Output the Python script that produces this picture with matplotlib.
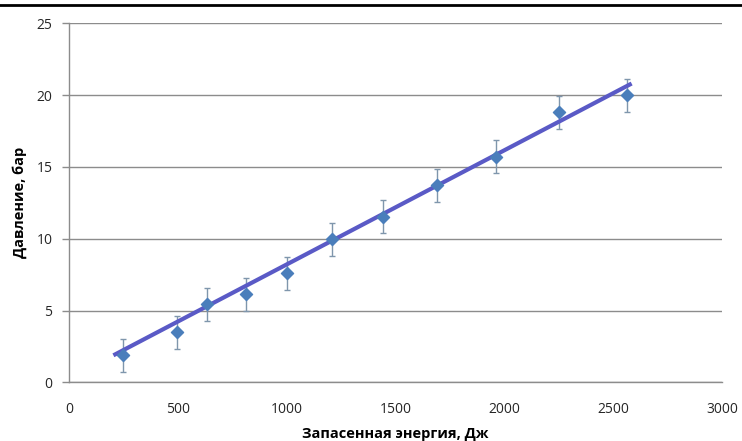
import numpy as np
import matplotlib

matplotlib.use("Agg")
import matplotlib.pyplot as plt
from matplotlib.lines import Line2D

plt.rcParams["font.family"] = ["Open Sans", "DejaVu Sans"]

# stored energy (J) vs pressure (bar)
energy_j = [247, 495, 635, 812, 1000, 1210, 1444, 1689, 1960, 2249, 2565]
pressure_bar = [1.90, 3.48, 5.43, 6.13, 7.59, 9.96, 11.53, 13.74, 15.71, 18.80, 19.99]
pressure_err = [1.15, 1.15, 1.15, 1.15, 1.15, 1.15, 1.15, 1.15, 1.15, 1.15, 1.15]

# linear trend line as drawn in the picture
trend_range = [204, 2585]
trend_slope = 0.00795
trend_intercept = 0.26

x_ticks = [0, 500, 1000, 1500, 2000, 2500, 3000]
y_ticks = [0, 5, 10, 15, 20, 25]

MARKER_COLOR = "#4A7EBB"
ERR_COLOR = "#7F96AC"
TREND_COLOR = "#5A5AC6"
GRID_COLOR = "#8C8C8C"
TEXT_COLOR = "#262626"


def main() -> None:
    fig = plt.figure(figsize=(7.42, 4.41), dpi=100)
    ax = fig.add_axes([0.093, 0.133, 0.880, 0.814])

    tx = np.array(trend_range, dtype=float)
    ax.plot(tx, trend_slope * tx + trend_intercept, color=TREND_COLOR, linewidth=3.0,
            solid_capstyle="butt", zorder=4)

    ax.errorbar(energy_j, pressure_bar, yerr=pressure_err, fmt="none",
                ecolor=ERR_COLOR, elinewidth=1.0, capsize=2.5, capthick=1.0, zorder=3)
    ax.scatter(energy_j, pressure_bar, marker="D", s=38, color=MARKER_COLOR,
               edgecolors=MARKER_COLOR, zorder=5)

    ax.set_xlim(0, 3000)
    ax.set_ylim(0, 25)
    ax.set_xticks(x_ticks)
    ax.set_yticks(y_ticks)
    ax.yaxis.grid(True, color=GRID_COLOR, linewidth=1.0)
    ax.set_axisbelow(True)

    for side in ("top", "right"):
        ax.spines[side].set_visible(False)
    for side in ("left", "bottom"):
        ax.spines[side].set_color(GRID_COLOR)
        ax.spines[side].set_linewidth(1.0)

    ax.tick_params(axis="x", length=0, pad=14, labelsize=10, labelcolor=TEXT_COLOR)
    ax.tick_params(axis="y", length=5, width=1.0, color=GRID_COLOR, pad=7,
                   labelsize=10, labelcolor=TEXT_COLOR)

    ax.set_xlabel("Запасенная энергия, Дж", fontsize=10.5, fontweight="bold",
                  color="black", labelpad=7)
    ax.set_ylabel("Давление, бар", fontsize=10.5, fontweight="bold",
                  color="black", labelpad=7)

    # black rule along the top edge of the picture
    fig.add_artist(Line2D([0, 1], [0.989, 0.989], transform=fig.transFigure,
                          color="black", linewidth=2.0))

    fig.savefig("out.png", dpi=100)
    plt.close(fig)


if __name__ == "__main__":
    main()
